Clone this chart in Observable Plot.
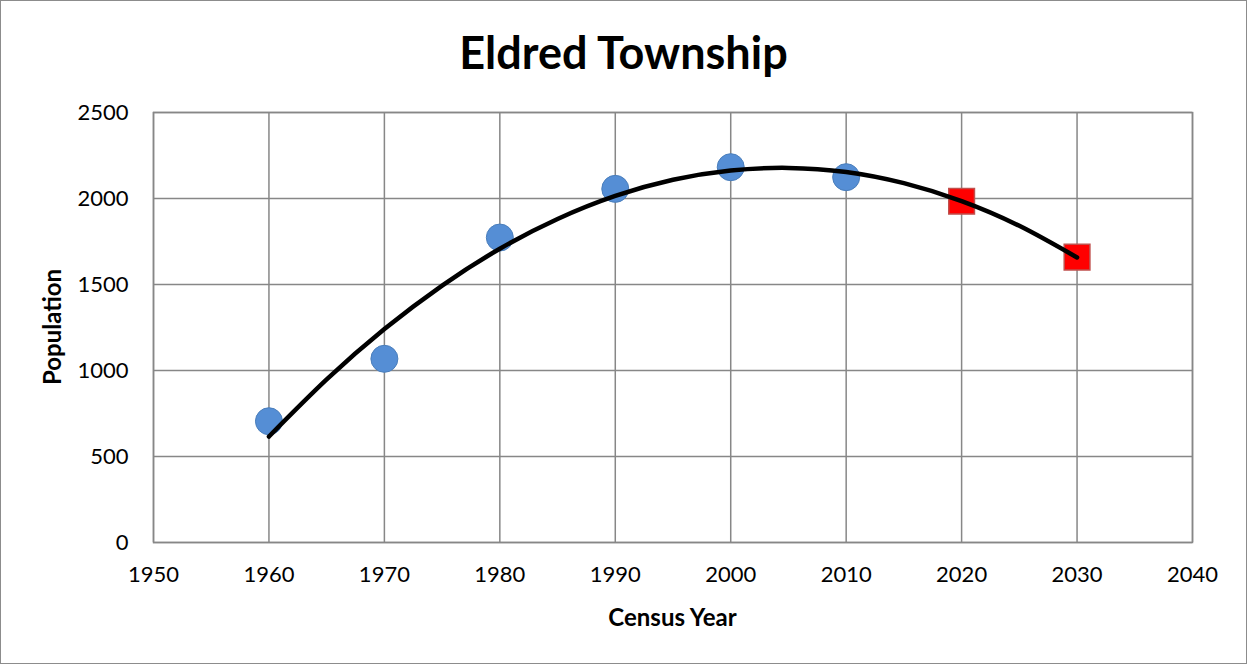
<!DOCTYPE html>
<html>
<head>
<meta charset="utf-8">
<script src="https://cdn.jsdelivr.net/npm/d3@7"></script>
<script src="https://cdn.jsdelivr.net/npm/@observablehq/plot@0.6"></script>
<style>
  body { margin: 0; background: #fff; }
  #wrap { position: relative; width: 1247px; height: 665px; overflow: hidden; background: #fff; font-family: Lato, "Open Sans", sans-serif; }
  #border { position: absolute; left: 0; top: 0; width: 1245px; height: 662px; border: 1px solid #8c8c8c; pointer-events: none; }
  #title { position: absolute; left: 0; top: 24px; width: 1247px; text-align: center; font-weight: bold; font-size: 45px; line-height: 56px; color: #000; }
  #chart { position: absolute; left: 0; top: 90px; }
  #xlabel { position: absolute; left: 153px; width: 1039px; top: 602px; text-align: center; font-weight: bold; font-size: 24px; line-height: 30px; }
  #ylabel { position: absolute; left: 52px; top: 327px; transform: translate(-50%, -50%) rotate(-90deg); font-weight: bold; font-size: 24px; line-height: 30px; white-space: nowrap; }
  #chart svg { font-family: Lato, "Open Sans", sans-serif; font-size: 22px; color: #000; }
</style>
</head>
<body>
<div id="wrap">
  <div id="title">Eldred Township</div>
  <div id="chart"></div>
  <div id="xlabel">Census Year</div>
  <div id="ylabel">Population</div>
  <div id="border"></div>
</div>
<script>
// Census data (blue circles)
const censusYears = [1960, 1970, 1980, 1990, 2000, 2010];
const censusPop = [705, 1068, 1773, 2056, 2182, 2124];
// Projections (red squares)
const projYears = [2020, 2030];
const projPop = [1984, 1659];
// Polynomial trend line
const trendYears = [1960, 1965, 1970, 1975, 1980, 1985, 1990, 1995, 2000, 2005, 2010, 2015, 2020, 2025, 2030];
const trendPop = [616, 948, 1241, 1494, 1708, 1881, 2015, 2109, 2163, 2178, 2154, 2089, 1985, 1841, 1657];
// Axis ticks
const xTicks = [1950, 1960, 1970, 1980, 1990, 2000, 2010, 2020, 2030, 2040];
const yTicks = [0, 500, 1000, 1500, 2000, 2500];

const census = censusYears.map((y, i) => ({year: y, pop: censusPop[i]}));
const proj = projYears.map((y, i) => ({year: y, pop: projPop[i]}));
const trend = trendYears.map((y, i) => ({year: y, pop: trendPop[i]}));

const gridColor = "#878787";

const chart = Plot.plot({
  width: 1247,
  height: 575,
  marginLeft: 153,
  marginRight: 55,
  marginTop: 22,
  marginBottom: 123,
  x: {domain: [1950, 2040]},
  y: {domain: [0, 2500]},
  marks: [
    Plot.gridX(xTicks, {stroke: gridColor, strokeOpacity: 1, strokeWidth: 1.5}),
    Plot.gridY(yTicks, {stroke: gridColor, strokeOpacity: 1, strokeWidth: 1.5}),
    Plot.frame({stroke: gridColor, strokeWidth: 1.5}),
    Plot.axisX(xTicks, {tickSize: 0, tickPadding: 24, label: null, tickFormat: d => String(d)}),
    Plot.axisY(yTicks, {tickSize: 0, tickPadding: 25, label: null, tickFormat: d => String(d)}),
    Plot.dot(census, {x: "year", y: "pop", r: 13.5, fill: "#558ed5", stroke: "#4a7ebb", strokeWidth: 1}),
    Plot.dot(proj, {x: "year", y: "pop", symbol: "square", r: 14.5, fill: "#ff0000", stroke: "#c0504d", strokeWidth: 1.5}),
    Plot.line(trend, {x: "year", y: "pop", curve: "natural", stroke: "#000", strokeWidth: 4.5, strokeLinecap: "round"})
  ]
});
document.getElementById("chart").appendChild(chart);
</script>
</body>
</html>
